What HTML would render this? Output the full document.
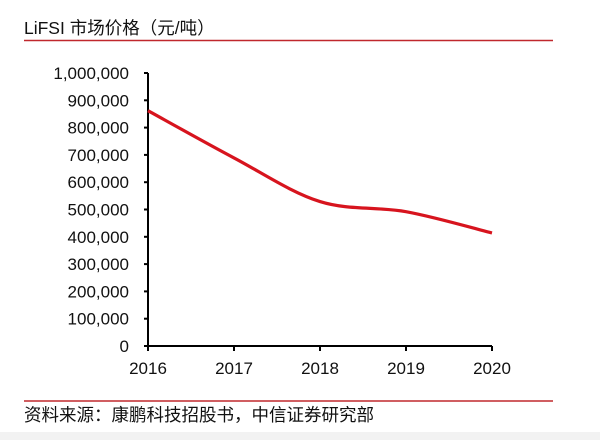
<!DOCTYPE html>
<html><head><meta charset="utf-8"><style>
html,body{margin:0;padding:0;background:#fff;}
body{width:600px;height:440px;position:relative;overflow:hidden;font-family:"Liberation Sans","Noto Sans CJK SC",sans-serif;}
</style></head><body>
<svg width="600" height="440" xmlns="http://www.w3.org/2000/svg">
<rect x="0" y="432" width="600" height="8" fill="#f2f2f2"/>
<text x="24" y="34" font-size="17.5" fill="#111" font-family="Liberation Sans, Noto Sans CJK SC, sans-serif">LiFSI 市场价格（元/吨）</text>
<line x1="24" y1="40.5" x2="553" y2="40.5" stroke="#c0282d" stroke-width="1.5"/>
<line x1="24" y1="401" x2="553" y2="401" stroke="#c0282d" stroke-width="1.5"/>
<text x="24" y="421" font-size="17.5" fill="#111" font-family="Liberation Sans, Noto Sans CJK SC, sans-serif">资料来源：康鹏科技招股书，中信证券研究部</text>
<g id="axes"></g>
<g id="plot"></g>
</svg>
<script>
const categories=["2016","2017","2018","2019","2020"];
const prices=[862000,689000,529000,492000,414000];
const yTicks=[0,100000,200000,300000,400000,500000,600000,700000,800000,900000,1000000];
const NS="http://www.w3.org/2000/svg";
const x0=148,x1=492,yb=346,yt=73,ymax=1000000;
function xs(i){return x0+(x1-x0)*i/(categories.length-1);}
function ys(v){return yb-(yb-yt)*v/ymax;}
function mk(t,a,p){const e=document.createElementNS(NS,t);for(const k in a)e.setAttribute(k,a[k]);p.appendChild(e);return e;}
const ax=document.getElementById('axes');
const yl=mk('line',{x1:x0,y1:yt,x2:x0,y2:yb,stroke:'#000','stroke-width':2},ax);


const xl=mk('line',{x1:x0-4,y1:yb,x2:x1,y2:yb,stroke:'#000','stroke-width':2},ax);


yTicks.forEach(v=>{
 const y=ys(v);
 const t=mk('line',{x1:x0-4,y1:y,x2:x0,y2:y,stroke:'#000','stroke-width':2},ax);
 
 
 const l=mk('text',{x:x0-19,y:y+6,'text-anchor':'end','font-size':17,fill:'#111'},ax);
 l.textContent=v.toLocaleString('en-US');
 
 
});
categories.forEach((c,i)=>{
 const x=xs(i);
 const t=mk('line',{x1:x,y1:yb,x2:x,y2:yb+5,stroke:'#000','stroke-width':2},ax);
 
 
 const l=mk('text',{x:x,y:yb+28,'text-anchor':'middle','font-size':17,fill:'#111'},ax);
 l.textContent=c;
 
 
});
const pts=prices.map((v,i)=>[xs(i),ys(v)]);
let d='M'+pts[0][0]+','+pts[0][1];
for(let i=0;i<pts.length-1;i++){
 const p0=pts[Math.max(0,i-1)],p1=pts[i],p2=pts[i+1],p3=pts[Math.min(pts.length-1,i+2)];
 const k=1/6;
 d+=' C'+(p1[0]+(p2[0]-p0[0])*k)+','+(p1[1]+(p2[1]-p0[1])*k)+' '+(p2[0]-(p3[0]-p1[0])*k)+','+(p2[1]-(p3[1]-p1[1])*k)+' '+p2[0]+','+p2[1];
}
const line=mk('path',{d:d,fill:'none',stroke:'#d7141e','stroke-width':3.2},document.getElementById('plot'));


</script>
</body></html>
